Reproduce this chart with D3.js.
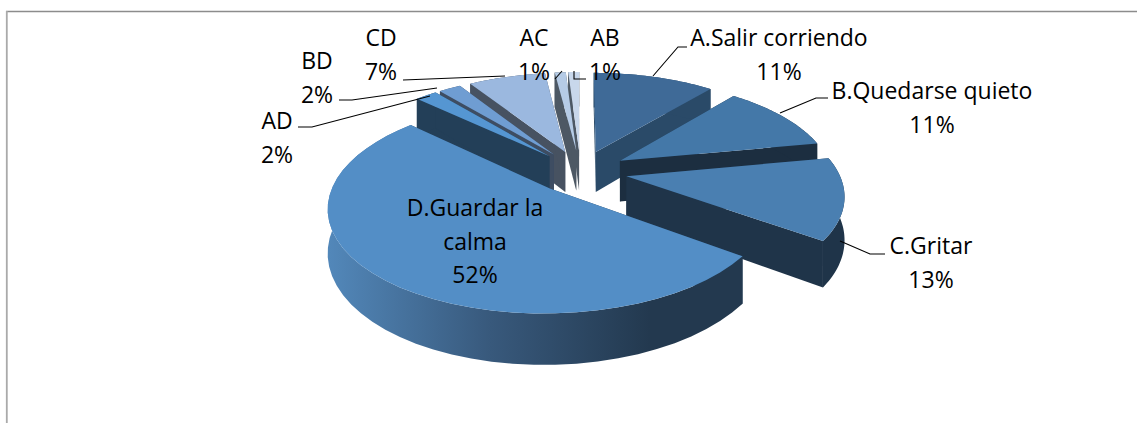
<!DOCTYPE html>
<html>
<head>
<meta charset="utf-8">
<script src="https://cdn.jsdelivr.net/npm/d3@7"></script>
<style>
html,body{margin:0;padding:0;background:#fff;}
svg{display:block;}
text{font-family:"Open Sans","Noto Sans",sans-serif;font-size:23px;fill:#000;}
</style>
</head>
<body>
<script>
const categories = ["A.Salir corriendo","B.Quedarse quieto","C.Gritar","D.Guardar la calma","AD","BD","CD","AC","AB"];
const values = [11,11,13,52,2,2,7,1,1];
const topColors = ["#3f6a97","#4478a8","#4a7fb1","#538ec6","#5596d2","#6f9dd2","#9bb8df","#b5cbe6","#c8d7eb"];
const wallColors = ["#2a4a68","#1c2e40","#1f3449","#24405a","#233f58","#3e4d62","#475261","#4d5864","#4d5864"];
const paintOrder = [8,7,6,5,4,0,1,2,3];

const W = 1137, H = 423;
const cx = 580.5, cy = 171.5, sx = 212, sy = 98, persp = 0.165, explode = 0.22, depth = 41.5;

const svg = d3.select("body").append("svg").attr("width",W).attr("height",H);
const defs = svg.append("defs");
const grad = defs.append("linearGradient").attr("id","wallD").attr("gradientUnits","userSpaceOnUse")
  .attr("x1",330).attr("x2",650).attr("y1",0).attr("y2",0);
grad.append("stop").attr("offset",0).attr("stop-color","#5287b9");
grad.append("stop").attr("offset",0.5).attr("stop-color","#38597c");
grad.append("stop").attr("offset",1).attr("stop-color","#23394f");

// frame
svg.append("path").attr("d",`M6,11.5 H${W}`).attr("stroke","#8c8c8c").attr("stroke-width",1.5);
svg.append("path").attr("d",`M6.8,11 V${H}`).attr("stroke","#aaaaaa").attr("stroke-width",1.8);

const pie = d3.pie().sort(null).value(d=>d);
const arcs = pie(values);
const line = d3.line();

function project(X,V,down){
  const f = 1/(1-persp*V);
  return [cx+sx*X*f, cy+sy*V*f+(down?depth*f:0)];
}
function pt(a,r,mid,down){
  const X = r*Math.sin(a)+explode*Math.sin(mid);
  const V = -r*Math.cos(a)-explode*Math.cos(mid);
  return project(X,V,down);
}
const g = svg.append("g");
paintOrder.forEach(i=>{
  const d = arcs[i], mid=(d.startAngle+d.endAngle)/2;
  const angs = d3.range(0,41).map(k=>d.startAngle+(d.endAngle-d.startAngle)*k/40);
  const rim = angs.map(a=>pt(a,1,mid,false));
  const rimDown = angs.map(a=>pt(a,1,mid,true));
  const apex = pt(0,0,mid,false), apexDown = pt(0,0,mid,true);
  const s = g.append("g");
  const fillW = i===3 ? "url(#wallD)" : wallColors[i];
  s.append("path").attr("d",line([apex,rim[0],rimDown[0],apexDown])+"Z").attr("fill",wallColors[i]);
  s.append("path").attr("d",line([apex,rim[40],rimDown[40],apexDown])+"Z").attr("fill",wallColors[i]);
  s.append("path").attr("d",line(rim.concat(rimDown.slice().reverse()))+"Z").attr("fill",fillW);
  s.append("path").attr("d",line([apex].concat(rim))+"Z").attr("fill",topColors[i]);
});

// leader lines
const leaders = [
  [[653,76],[678,47],[687,47]],
  [[780,113],[816,98],[828,98]],
  [[840,241],[870,254],[885,254]],
  [[298,127],[312,127],[430,96]],
  [[339,100],[352,100],[437,88]],
  [[403,80],[505,76]],
  [[555,79],[562,71]],
  [[574,71],[574,79],[586,79]]
];
svg.append("g").selectAll("path").data(leaders).join("path")
  .attr("d",d=>line(d)).attr("fill","none").attr("stroke","#000").attr("stroke-width",1.1);

// labels
const labelLines = [
  ["A.Salir corriendo","11%"],["B.Quedarse quieto","11%"],["C.Gritar","13%"],
  ["D.Guardar la","calma","52%"],["AD","2%"],["BD","2%"],["CD","7%"],["AC","1%"],["AB","1%"]
];
const labelX = [779,932,931,475,277,317,381,534,605];
const labelY = [46,99,254,216,129,69,46,46,46];
const lineStep = 33.5;
labelLines.forEach((ls,i)=>{
  const t = svg.append("text").attr("text-anchor","middle");
  ls.forEach((s,j)=>t.append("tspan").attr("x",labelX[i]).attr("y",labelY[i]+j*lineStep).text(s));
});
</script>
</body>
</html>
